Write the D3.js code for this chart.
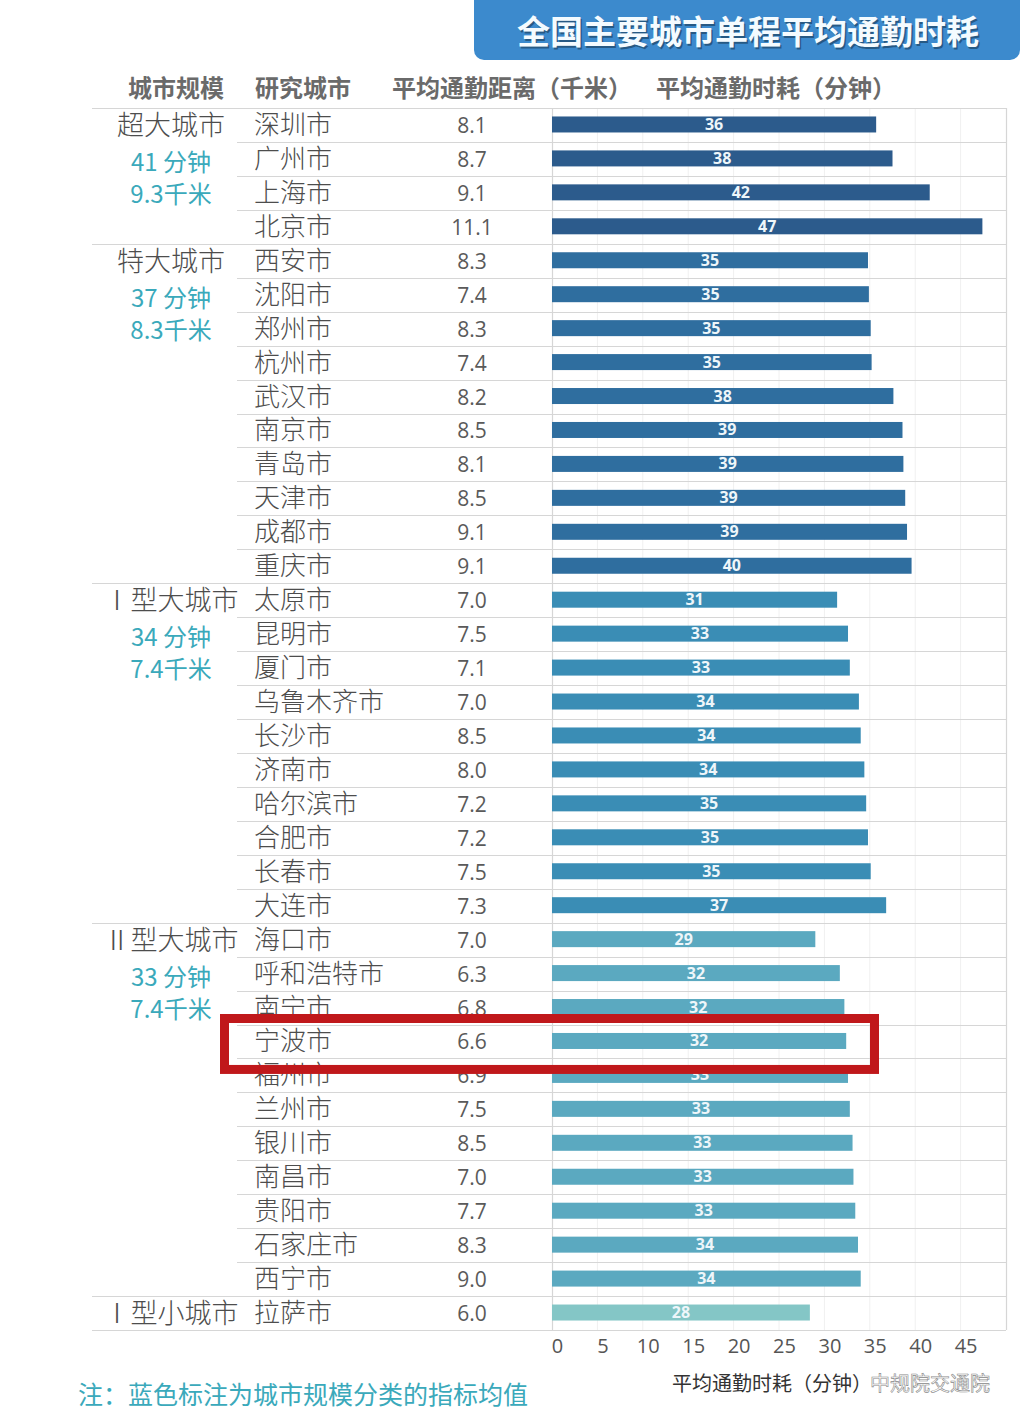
<!DOCTYPE html>
<html><head><meta charset="utf-8">
<script src="https://cdn.jsdelivr.net/npm/d3@7"></script>
<style>
html,body{margin:0;padding:0;background:#fff;}
svg{display:block;font-family:"Noto Sans CJK SC","Noto Sans",sans-serif;}
</style></head>
<body>
<svg id="chart" width="1024" height="1427"></svg>
<script>
// ---- data ----
const groupNames = ["超大城市","特大城市","Ⅰ型大城市","Ⅱ型大城市","Ⅰ型小城市"];
const groupAvgTime = [41, 37, 34, 33, null];
const groupAvgDist = [9.3, 8.3, 7.4, 7.4, null];
const cities = ["深圳市","广州市","上海市","北京市",
  "西安市","沈阳市","郑州市","杭州市","武汉市","南京市","青岛市","天津市","成都市","重庆市",
  "太原市","昆明市","厦门市","乌鲁木齐市","长沙市","济南市","哈尔滨市","合肥市","长春市","大连市",
  "海口市","呼和浩特市","南宁市","宁波市","福州市","兰州市","银川市","南昌市","贵阳市","石家庄市","西宁市",
  "拉萨市"];
const cityGroup = [0,0,0,0, 1,1,1,1,1,1,1,1,1,1, 2,2,2,2,2,2,2,2,2,2, 3,3,3,3,3,3,3,3,3,3,3, 4];
const distance = [8.1,8.7,9.1,11.1, 8.3,7.4,8.3,7.4,8.2,8.5,8.1,8.5,9.1,9.1,
  7.0,7.5,7.1,7.0,8.5,8.0,7.2,7.2,7.5,7.3,
  7.0,6.3,6.8,6.6,6.9,7.5,8.5,7.0,7.7,8.3,9.0, 6.0];
const commuteTime = [35.7,37.5,41.6,47.4, 34.8,34.9,35.1,35.2,37.6,38.6,38.7,38.9,39.1,39.6,
  31.4,32.6,32.8,33.8,34.0,34.4,34.6,34.8,35.1,36.8,
  29.0,31.7,32.2,32.4,32.6,32.8,33.1,33.2,33.4,33.7,34.0, 28.4];
const xTicks = [0,5,10,15,20,25,30,35,40,45];
const headers = ["城市规模","研究城市","平均通勤距离（千米）","平均通勤时耗（分钟）"];
const title = "全国主要城市单程平均通勤时耗";
const axisTitle = "平均通勤时耗（分钟）";
const note = "注：蓝色标注为城市规模分类的指标均值";
const highlightCity = "宁波市";
const groupColors = ["#2c5b8c","#2f6e9f","#3a8db5","#5ba9c0","#84c6c6"];

// ---- layout ----
const svg = d3.select("#chart");
const tableTop = 108, tableBottom = 1330;
const barLeft = 552, barRight = 1006;
const y = d3.scaleBand().domain(cities).range([tableTop, tableBottom]).padding(0);
const x = d3.scaleLinear().domain([0, 50]).range([barLeft, barRight]);
const bh = 16;

// title box
svg.append("rect").attr("x", 474).attr("y", -14).attr("width", 546).attr("height", 74)
  .attr("rx", 10).attr("fill", "#3c8acd");
svg.append("text").attr("x", 748).attr("y", 44).attr("text-anchor", "middle")
  .attr("font-size", 33).attr("font-weight", 700).attr("fill", "#000").attr("opacity", 0.35)
  .attr("transform", "translate(1.5,1.5)").text(title);
svg.append("text").attr("x", 748).attr("y", 44).attr("text-anchor", "middle")
  .attr("font-size", 33).attr("font-weight", 700).attr("fill", "#f4fbff").text(title);

// headers
const headerX = [176, 303, 512, 776];
svg.selectAll("text.hdr").data(headers).join("text").attr("class", "hdr")
  .attr("x", (d, i) => headerX[i]).attr("y", 97).attr("text-anchor", "middle")
  .attr("font-size", 24).attr("font-weight", 700).attr("fill", "#6a6a6a").text(d => d);

// vertical gridlines (faint)
svg.selectAll("line.vg").data(xTicks.slice(1)).join("line").attr("class", "vg")
  .attr("x1", d => x(d)).attr("x2", d => x(d)).attr("y1", tableTop).attr("y2", tableBottom)
  .attr("stroke", "#f0f0f0").attr("stroke-width", 1);

// horizontal row lines
const boundaries = cities.map((c, i) => ({
  yy: y(c), groupStart: i === 0 || cityGroup[i] !== cityGroup[i - 1]
}));
boundaries.push({ yy: tableBottom, groupStart: true });
svg.selectAll("line.hl").data(boundaries).join("line").attr("class", "hl")
  .attr("x1", d => d.groupStart ? 92 : 237).attr("x2", barRight)
  .attr("y1", d => Math.round(d.yy) + 0.5).attr("y2", d => Math.round(d.yy) + 0.5)
  .attr("stroke", "#d6d6d6").attr("stroke-width", 1.2);

// vertical borders
[barLeft, barRight].forEach(xx => {
  svg.append("line").attr("x1", xx + 0.5).attr("x2", xx + 0.5).attr("y1", tableTop).attr("y2", tableBottom)
    .attr("stroke", "#d6d6d6").attr("stroke-width", 1.2);
});

// bars
const rows = cities.map((c, i) => ({ c, g: cityGroup[i], d: distance[i], t: commuteTime[i] }));
svg.selectAll("rect.bar").data(rows).join("rect").attr("class", "bar")
  .attr("x", x(0)).attr("y", d => y(d.c) + y.bandwidth() / 2 - bh / 2 - 0.5)
  .attr("width", d => x(d.t) - x(0)).attr("height", bh)
  .attr("fill", d => groupColors[d.g]);
svg.selectAll("text.bv").data(rows).join("text").attr("class", "bv")
  .attr("x", d => (x(0) + x(d.t)) / 2).attr("y", d => y(d.c) + y.bandwidth() / 2 + 5)
  .attr("text-anchor", "middle").attr("font-size", 16).attr("font-weight", 700)
  .attr("fill", "#eef6fa").attr("font-family", "'Open Sans',sans-serif")
  .text(d => Math.round(d.t));

// city names & distances
svg.selectAll("text.city").data(rows).join("text").attr("class", "city")
  .attr("x", 254).attr("y", d => y(d.c) + y.bandwidth() / 2 + 9)
  .attr("font-size", 26).attr("font-weight", 300).attr("fill", "#4d4d4d").text(d => d.c);
svg.selectAll("text.dist").data(rows).join("text").attr("class", "dist")
  .attr("x", 472).attr("y", d => y(d.c) + y.bandwidth() / 2 + 8)
  .attr("text-anchor", "middle").attr("font-size", 21).attr("fill", "#5a5a5a")
  .attr("font-family", "'Open Sans',sans-serif").text(d => d.d.toFixed(1));

// group labels
groupNames.forEach((gname, gi) => {
  const first = cities[cityGroup.indexOf(gi)];
  const cy = y(first) + y.bandwidth() / 2;
  svg.append("text").attr("x", 171).attr("y", cy + 10).attr("text-anchor", "middle")
    .attr("font-size", 27).attr("font-weight", 300).attr("fill", "#4d4d4d").text(gname);
  if (groupAvgTime[gi] != null) {
    svg.append("text").attr("x", 171).attr("y", cy + 46).attr("text-anchor", "middle")
      .attr("font-size", 24).attr("fill", "#3aa9bb").text(groupAvgTime[gi] + " 分钟");
    svg.append("text").attr("x", 171).attr("y", cy + 78).attr("text-anchor", "middle")
      .attr("font-size", 24).attr("fill", "#3aa9bb").text(groupAvgDist[gi].toFixed(1) + "千米");
  }
});

// x axis
const axis = svg.append("g").attr("transform", `translate(0,${tableBottom})`)
  .call(d3.axisBottom(x).tickValues(xTicks).tickSize(0).tickPadding(9));
axis.select(".domain").remove();
axis.selectAll("text").attr("font-size", 20).attr("fill", "#555")
  .attr("font-family", "'Open Sans',sans-serif").attr("dx", "0.25em");
svg.append("text").attr("x", 672).attr("y", 1391).attr("font-size", 20).attr("fill", "#333").text(axisTitle);
svg.append("text").attr("x", 990).attr("y", 1391).attr("text-anchor", "end").attr("font-size", 20)
  .attr("fill", "#ffffff").attr("fill-opacity", 0.7).attr("stroke", "#888").attr("stroke-width", 0.6)
  .text("中规院交通院");

// note
svg.append("text").attr("x", 78).attr("y", 1404).attr("font-size", 25).attr("fill", "#3aa9bb").text(note);

// highlight box
const hy = y(highlightCity);
svg.append("rect").attr("x", 224.5).attr("y", hy - 6).attr("width", 650).attr("height", y.bandwidth() + 17)
  .attr("fill", "none").attr("stroke", "#c0181b").attr("stroke-width", 9);
</script>
</body></html>
